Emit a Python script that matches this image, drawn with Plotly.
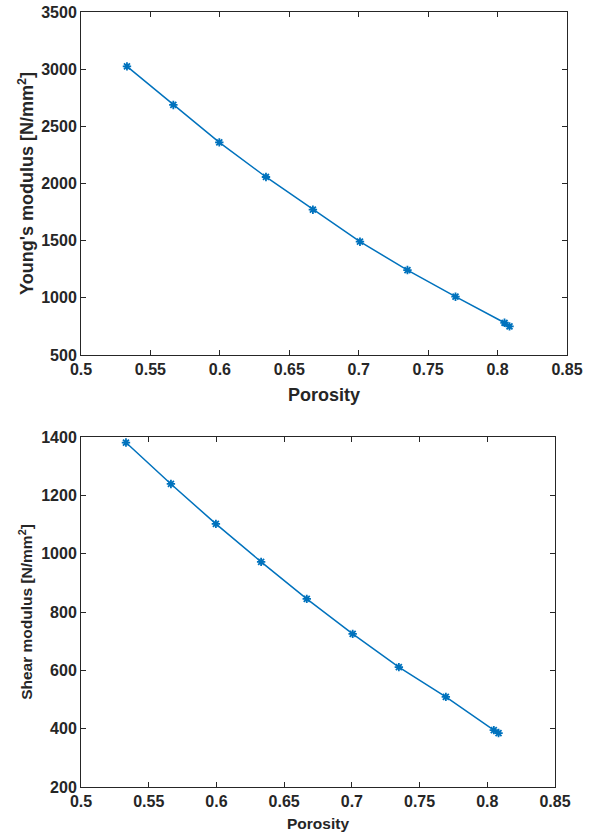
import plotly.graph_objects as go

porosity_top = [0.5331, 0.5665, 0.5996, 0.6332, 0.6670, 0.7009, 0.7351, 0.7697, 0.8050, 0.8086]
young = [3024, 2687, 2360, 2057, 1771, 1491, 1243, 1010, 782, 750]
porosity_bot = [0.5332, 0.5664, 0.5996, 0.6330, 0.6667, 0.7006, 0.7347, 0.7694, 0.8048, 0.8083]
shear = [1381, 1239, 1102, 972, 845, 725, 611, 509, 395, 385]

x_ticks = [0.5, 0.55, 0.6, 0.65, 0.7, 0.75, 0.8, 0.85]
x_ticktext = ["0.5", "0.55", "0.6", "0.65", "0.7", "0.75", "0.8", "0.85"]
y1_ticks = [500, 1000, 1500, 2000, 2500, 3000, 3500]
y2_ticks = [200, 400, 600, 800, 1000, 1200, 1400]

W, H = 590, 834
blue = "#0072BD"
dark = "#262626"
FONT = "Liberation Sans, Arial, sans-serif"


def dx(px):
    return px / W


def dy(px):
    return 1 - px / H


fig = go.Figure()
marker = dict(symbol="asterisk-open", size=7, color=blue, line=dict(color=blue, width=1.8))
fig.add_trace(go.Scatter(x=porosity_top, y=young, mode="lines+markers",
                         line=dict(color=blue, width=1.5), marker=marker,
                         xaxis="x", yaxis="y", showlegend=False))
fig.add_trace(go.Scatter(x=porosity_bot, y=shear, mode="lines+markers",
                         line=dict(color=blue, width=1.5), marker=marker,
                         xaxis="x2", yaxis="y2", showlegend=False))

common = dict(showgrid=False, zeroline=False, showline=True, linecolor=dark, linewidth=1,
              mirror="ticks", ticks="inside", ticklen=5, tickcolor=dark, tickwidth=1,
              tickfont=dict(family=FONT, size=16, color=dark, weight="bold"),
              ticklabeloverflow="allow", automargin=False)

fig.update_layout(
    width=W, height=H, margin=dict(l=0, r=0, t=0, b=0),
    paper_bgcolor="white", plot_bgcolor="white",
    xaxis=dict(domain=[dx(81), dx(567)], range=[0.5, 0.85], tickvals=x_ticks, ticktext=x_ticktext,
               anchor="y",
               title=dict(text="Porosity", standoff=11,
                          font=dict(family=FONT, size=18, color=dark, weight="bold")), **common),
    yaxis=dict(domain=[dy(355), dy(12)], range=[500, 3500], tickvals=y1_ticks,
               anchor="x",
               title=dict(text="Young's modulus [N/mm<sup>2</sup>]", standoff=2,
                          font=dict(family=FONT, size=18, color=dark, weight="bold")), **common),
    xaxis2=dict(domain=[dx(81), dx(555)], range=[0.5, 0.85], tickvals=x_ticks, ticktext=x_ticktext,
                anchor="y2",
                title=dict(text="Porosity", standoff=8,
                           font=dict(family=FONT, size=15.5, color=dark, weight="bold")), **common),
    yaxis2=dict(domain=[dy(787), dy(437)], range=[200, 1400], tickvals=y2_ticks,
                anchor="x2",
                title=dict(text="Shear modulus [N/mm<sup>2</sup>]", standoff=4,
                           font=dict(family=FONT, size=15.5, color=dark, weight="bold")), **common),
)

fig.write_html("out.html", config={"displayModeBar": False},
               post_script="document.body.style.margin='0';document.body.style.overflow='hidden';")
